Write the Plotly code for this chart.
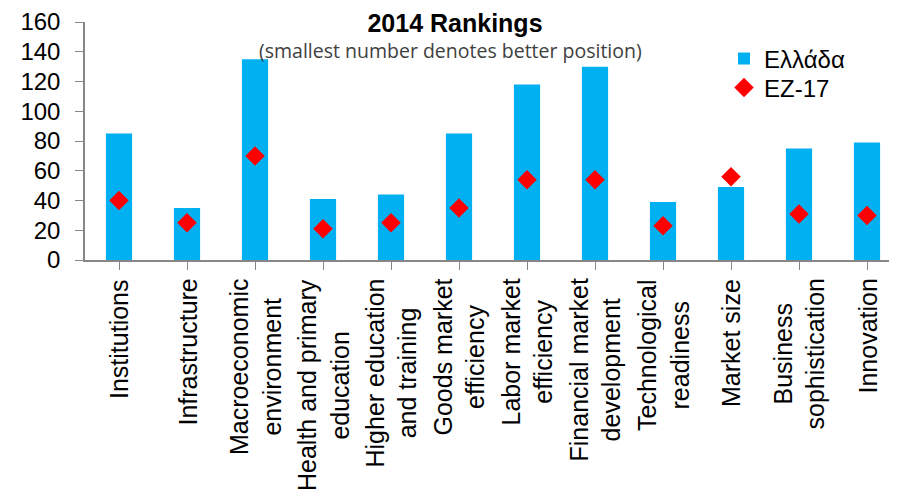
import plotly.graph_objects as go

categories = ["Institutions", "Infrastructure", "Macroeconomic<br>environment",
              "Health and primary<br>education", "Higher education<br>and training",
              "Goods market<br>efficiency", "Labor market<br>efficiency",
              "Financial market<br>development", "Technological<br>readiness",
              "Market size", "Business<br>sophistication", "Innovation"]
greece = [85, 35, 135, 41, 44, 85, 118, 130, 39, 49, 75, 79]
ez17 = [40, 25, 70, 21, 25, 35, 54, 54, 23, 56, 31, 30]
y_ticks = [0, 20, 40, 60, 80, 100, 120, 140, 160]

x_idx = list(range(len(categories)))

# page body has an 8px default margin; the figure is sized to fill the rest of the window
OFF = 8
W, H = 897 - OFF, 501 - OFF
L, T, PW, PH = 85 - OFF, 22 - OFF, 812, 238

def px_x(px):  # window px -> paper fraction
    return (px - 85) / PW

def px_y(py):
    return (260 - py) / PH

fig = go.Figure()
fig.add_trace(go.Bar(x=x_idx, y=greece, name="Ελλάδα", legend="legend",
                     marker=dict(color="#00B0F0", line=dict(width=0))))
fig.add_trace(go.Scatter(x=x_idx, y=ez17, name="EZ-17", mode="markers", legend="legend2",
                         marker=dict(symbol="diamond", size=15, color="#FF0000", line=dict(width=0))))

for i, c in enumerate(categories):
    fig.add_annotation(x=i, xref="x", y=0, yref="paper", yanchor="top", xanchor="center",
                       yshift=-17, text=c, textangle=-90, align="center", showarrow=False,
                       font=dict(family="Liberation Sans, Arial", size=25, color="#000000"))

fig.add_annotation(x=px_x(450), xref="paper", y=px_y(50), yref="paper",
                   text="(smallest number denotes better position)", showarrow=False,
                   xanchor="center", yanchor="middle",
                   font=dict(family="Open Sans", size=19.5, color="#404040"))

legend_font = dict(family="Liberation Sans, Arial", size=24, color="#000000")
fig.update_layout(
    width=W, height=H,
    margin=dict(l=L, r=0, t=T, b=H - T - PH, autoexpand=False),
    paper_bgcolor="white", plot_bgcolor="white",
    bargap=0.615,
    title=dict(text="<b>2014 Rankings</b>", x=(455 - OFF) / W, xanchor="center",
               y=1 - (23 - OFF) / H, yanchor="middle",
               font=dict(family="Liberation Sans, Arial", size=25, color="#000000")),
    showlegend=True,
    legend=dict(x=px_x(724), y=px_y(59), xanchor="left", yanchor="middle",
                bgcolor="rgba(0,0,0,0)", font=legend_font),
    legend2=dict(x=px_x(724), y=px_y(88), xanchor="left", yanchor="middle",
                 bgcolor="rgba(0,0,0,0)", font=legend_font),
    xaxis=dict(range=[-0.5, -0.5 + PW / 68], showgrid=False, zeroline=False, showline=True,
               linecolor="#868686", linewidth=1.5, ticks="outside", ticklen=8, tickcolor="#868686",
               tickson="boundaries", tickvals=x_idx, showticklabels=False, automargin=False),
    yaxis=dict(range=[0, 160], tickvals=y_ticks, showgrid=False, zeroline=False, showline=True,
               linecolor="#868686", linewidth=1.5, ticks="outside", ticklen=8, tickcolor="#868686",
               ticklabelstandoff=10, automargin=False,
               tickfont=dict(family="Liberation Sans, Arial", size=24, color="#000000")),
)

fig.write_html("out.html")
